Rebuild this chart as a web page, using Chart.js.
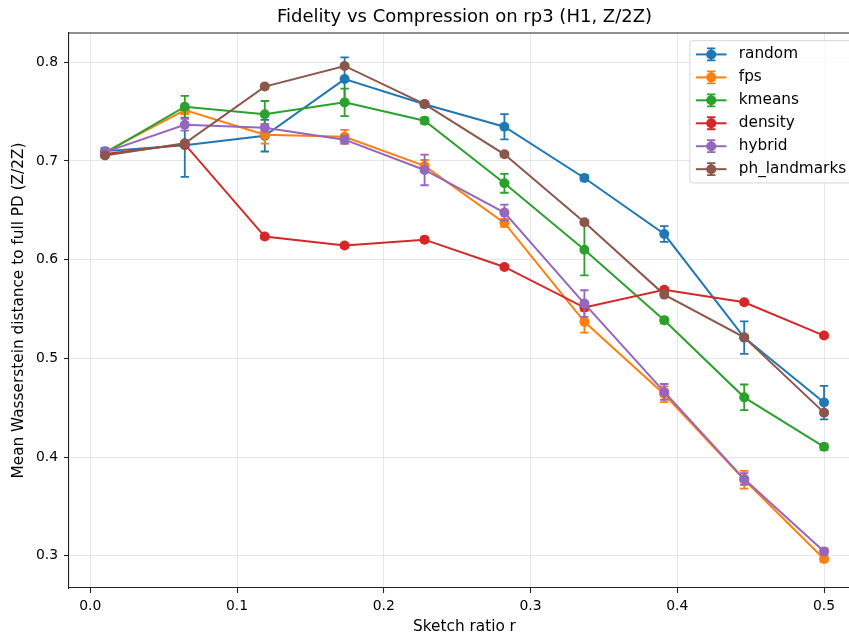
<!DOCTYPE html>
<html>
<head>
<meta charset="utf-8">
<script src="https://cdn.jsdelivr.net/npm/chart.js@4.4.1/dist/chart.umd.min.js"></script>
<style>
  html, body { margin: 0; padding: 0; background: #fff; overflow: hidden; }
  canvas { display: block; }
</style>
</head>
<body>
<canvas id="chart" width="880" height="639"></canvas>
<script>
// Fidelity vs compression — mean Wasserstein distance per sketch ratio,
// one line per landmark strategy, with ±std error bars drawn by a small plugin.

const X_VALUES = [0.01, 0.0644, 0.1189, 0.1733, 0.2278, 0.2822, 0.3367, 0.3911, 0.4456, 0.5];
const X_TICKS = [0, 0.1, 0.2, 0.3, 0.4, 0.5];
const Y_TICKS = [0.3, 0.4, 0.5, 0.6, 0.7, 0.8];

const NAMES = ["random", "fps", "kmeans", "density", "hybrid", "ph_landmarks"];
const COLORS = ["#1f77b4", "#ff7f0e", "#2ca02c", "#d62728", "#9467bd", "#8c564b"];

const RANDOM = [0.710, 0.716, 0.7256, 0.783, 0.7575, 0.7347, 0.6828, 0.626, 0.521, 0.4552];
const RANDOM_ERR = [0.003, 0.032, 0.016, 0.022, 0.003, 0.0128, 0.003, 0.008, 0.0165, 0.017];
const FPS = [0.709, 0.7516, 0.7266, 0.7246, 0.695, 0.6373, 0.537, 0.4636, 0.377, 0.2967];
const FPS_ERR = [0.003, 0.004, 0.009, 0.007, 0.006, 0.004, 0.011, 0.008, 0.009, 0.003];
const KMEANS = [0.708, 0.755, 0.7473, 0.7594, 0.7408, 0.6774, 0.6101, 0.5386, 0.4605, 0.4104];
const KMEANS_ERR = [0.002, 0.011, 0.0135, 0.014, 0.003, 0.0096, 0.026, 0.003, 0.013, 0.003];
const DENSITY = [0.707, 0.717, 0.6234, 0.6143, 0.6203, 0.5926, 0.5515, 0.5696, 0.5568, 0.5231];
const DENSITY_ERR = [0.002, 0.002, 0.002, 0.002, 0.002, 0.002, 0.002, 0.002, 0.002, 0.002];
const HYBRID = [0.709, 0.7367, 0.7337, 0.7216, 0.6909, 0.6477, 0.5555, 0.466, 0.3777, 0.3044];
const HYBRID_ERR = [0.003, 0.006, 0.004, 0.004, 0.0155, 0.008, 0.0135, 0.008, 0.006, 0.003];
const PH_LANDMARKS = [0.7055, 0.718, 0.7754, 0.7963, 0.7577, 0.7068, 0.638, 0.5646, 0.5214, 0.445];
const PH_LANDMARKS_ERR = [0.002, 0.002, 0.002, 0.002, 0.002, 0.002, 0.002, 0.002, 0.002, 0.002];

const MEANS = [RANDOM, FPS, KMEANS, DENSITY, HYBRID, PH_LANDMARKS];
const ERRS = [RANDOM_ERR, FPS_ERR, KMEANS_ERR, DENSITY_ERR, HYBRID_ERR, PH_LANDMARKS_ERR];

const FONT = "'DejaVu Sans', sans-serif";
const INK = "#000";
const SPINE = "#222";
const GRID = "rgba(176,176,176,0.3)";
const CAP = 4.2;

Chart.defaults.font.family = FONT;
Chart.defaults.color = INK;

// ---------- plugins ----------
const errorBars = {
  id: "errorBars",
  beforeDatasetDraw(chart, args) {
    const ds = chart.data.datasets[args.index];
    const { x: xs, y: ys } = chart.scales;
    const ctx = chart.ctx;
    ctx.save();
    ctx.strokeStyle = ds.borderColor;
    ctx.lineWidth = 1.8;
    ds.data.forEach((p, j) => {
      const e = ds.errors[j];
      const px = xs.getPixelForValue(p.x);
      const top = ys.getPixelForValue(p.y + e);
      const bot = ys.getPixelForValue(p.y - e);
      ctx.beginPath();
      ctx.moveTo(px, top); ctx.lineTo(px, bot);
      ctx.moveTo(px - CAP, top); ctx.lineTo(px + CAP, top);
      ctx.moveTo(px - CAP, bot); ctx.lineTo(px + CAP, bot);
      ctx.stroke();
    });
    ctx.restore();
  },
};

const frameAndLegend = {
  id: "frameAndLegend",
  afterDraw(chart) {
    const { ctx, chartArea: a } = chart;
    ctx.save();
    // top and right spines (Chart.js only draws the axis borders)
    ctx.strokeStyle = SPINE;
    ctx.lineWidth = 1.1;
    ctx.beginPath();
    ctx.moveTo(a.left, a.top); ctx.lineTo(a.right, a.top); ctx.lineTo(a.right, a.bottom);
    ctx.stroke();

    // matplotlib-style legend, upper right
    const fs = 15.3;
    ctx.font = `${fs}px ${FONT}`;
    const sets = chart.data.datasets;
    const textW = Math.max(...sets.map((d) => ctx.measureText(d.label).width));
    const pad = 0.4 * fs, handle = 2 * fs, gap = 0.8 * fs, rowStep = 1.5 * fs;
    const w = 2 * pad + handle + gap + textW;
    const h = 2 * pad + sets.length * fs + (sets.length - 1) * 0.5 * fs;
    const right = a.right - 0.5 * fs;
    const left = right - w;
    const top = a.top + 0.5 * fs;

    ctx.beginPath();
    ctx.roundRect(left, top, w, h, 3);
    ctx.fillStyle = "rgba(255,255,255,0.8)";
    ctx.fill();
    ctx.strokeStyle = "rgba(204,204,204,0.8)";
    ctx.lineWidth = 1;
    ctx.stroke();

    sets.forEach((d, k) => {
      const cy = top + pad + fs / 2 + k * rowStep;
      const x0 = left + pad, cx = x0 + handle / 2;
      ctx.strokeStyle = d.borderColor;
      ctx.lineWidth = 2;
      ctx.beginPath();
      ctx.moveTo(x0, cy); ctx.lineTo(x0 + handle, cy);
      ctx.stroke();
      ctx.lineWidth = 1.8;
      ctx.beginPath();
      ctx.moveTo(cx, cy - 6); ctx.lineTo(cx, cy + 6);
      ctx.moveTo(cx - CAP, cy - 6); ctx.lineTo(cx + CAP, cy - 6);
      ctx.moveTo(cx - CAP, cy + 6); ctx.lineTo(cx + CAP, cy + 6);
      ctx.stroke();
      ctx.fillStyle = d.borderColor;
      ctx.beginPath();
      ctx.arc(cx, cy, 5, 0, Math.PI * 2);
      ctx.fill();
      ctx.fillStyle = INK;
      ctx.textBaseline = "middle";
      ctx.textAlign = "left";
      ctx.fillText(d.label, x0 + handle + gap, cy);
    });
    ctx.restore();
  },
};

// ---------- chart ----------
function axis(ticks, min, max, title, titlePad, pad, fit) {
  return {
    type: "linear",
    min, max,
    afterBuildTicks: (s) => { s.ticks = ticks.map((v) => ({ value: v })); },
    afterFit: fit,
    grid: { color: GRID, lineWidth: 1, drawTicks: true, tickLength: 5, tickColor: SPINE, tickWidth: 1.1 },
    border: { display: true, color: SPINE, width: 1.1 },
    ticks: { font: { size: 13.9 }, color: INK, padding: pad, callback: (v) => v.toFixed(1) },
    title: { display: true, text: title, font: { size: 15.3 }, color: INK, padding: titlePad },
  };
}

new Chart(document.getElementById("chart"), {
  type: "line",
  data: {
    datasets: NAMES.map((name, i) => ({
      label: name,
      data: X_VALUES.map((x, j) => ({ x, y: MEANS[i][j] })),
      errors: ERRS[i],
      borderColor: COLORS[i],
      backgroundColor: COLORS[i],
      pointBackgroundColor: COLORS[i],
      borderWidth: 2,
      pointRadius: 5,
      pointBorderWidth: 0,
      tension: 0,
      fill: false,
      order: NAMES.length - i,
    })),
  },
  options: {
    responsive: false,
    animation: false,
    events: [],
    layout: { padding: { top: 0, right: 20, bottom: 0, left: 0 } },
    plugins: {
      legend: { display: false },
      tooltip: { enabled: false },
      title: {
        display: true,
        fullSize: false,
        text: "Fidelity vs Compression on rp3 (H1, Z/2Z)",
        font: { size: 18, weight: "normal" },
        color: INK,
        padding: { top: 7, bottom: 4.4 },
      },
    },
    scales: {
      x: axis(X_TICKS, -0.0145, 0.5245, "Sketch ratio r", { top: 0, bottom: 3 }, 5,
        (s) => { s.height = 51; }),
      y: axis(Y_TICKS, 0.2673, 0.8297, "Mean Wasserstein distance to full PD (Z/2Z)", { top: 10, bottom: 0 }, 6,
        (s) => { s.width = 69; }),
    },
  },
  plugins: [errorBars, frameAndLegend],
});
</script>
</body>
</html>
